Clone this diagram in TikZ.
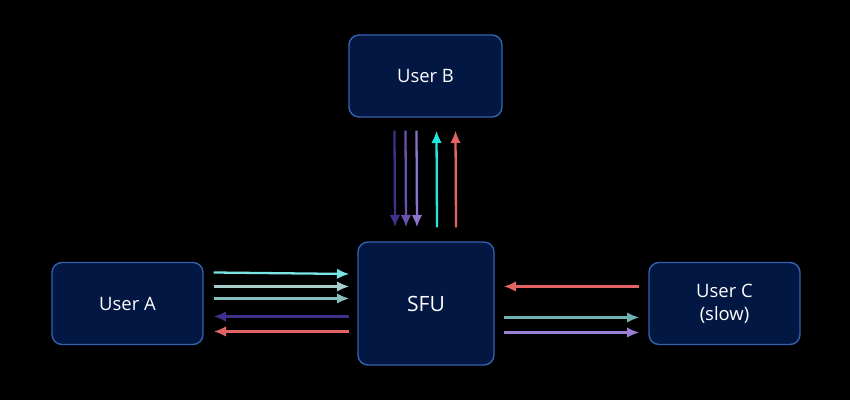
\documentclass[tikz,border=0pt]{standalone}
\usepackage{fontspec}
\setmainfont{Open Sans}
\usetikzlibrary{
	arrows.meta,
	positioning
}
\definecolor{boxfill}{HTML}{031743}
\definecolor{boxline}{HTML}{3560B0}
\definecolor{flowcyan}{HTML}{22E6E0}
\definecolor{flowcyanl}{HTML}{78E4E4}
\definecolor{flowgreyA}{HTML}{A6CCCC}
\definecolor{flowgreyB}{HTML}{86BEBE}
\definecolor{flowteal}{HTML}{6FB2B2}
\definecolor{flowred}{HTML}{E26464}
\definecolor{flowpurpA}{HTML}{40308C}
\definecolor{flowpurpB}{HTML}{6A52AC}
\definecolor{flowpurpC}{HTML}{8C74CC}
\definecolor{flowpurpD}{HTML}{9A80D4}

\tikzset{
	userbox/.style={draw=boxline,line width=0.8pt,fill=boxfill,rounded corners=0.2cm,
		minimum width=3.02cm,minimum height=1.64cm,text=white,font=\fontsize{10.5}{13}\selectfont,align=center},
	flow/.style={->,line width=1.3pt}
}

\begin{document}
\begin{tikzpicture}[>={Latex[length=7pt,width=6pt]}]
    % Background
    \fill[black] (0,0) rectangle (17,8);
    \useasboundingbox (0,0) rectangle (17,8);
    % Definitions
    \coordinate (UB) at (8.51,6.48);
    \coordinate (SF) at (8.52,1.93);
    \coordinate (UA) at (2.55,1.93);
    \coordinate (UC) at (14.49,1.93);
    % Nodes
    \node(UsrB) at (UB) [userbox,minimum width=3.06cm] {User B};
    \node(Sfu)  at (SF) [userbox,minimum width=2.72cm,minimum height=2.46cm,font=\fontsize{12}{14}\selectfont] {SFU};
    \node(UsrA) at (UA) [userbox] {User A};
    \node(UsrC) at (UC) [userbox] {User C\\(slow)};
    % Arrows User B <-> SFU
    \draw[flow,flowpurpA] ([xshift=-0.62cm,yshift=-0.26cm]UsrB.south) -- ([xshift=-0.62cm,yshift=0.28cm]Sfu.north);
    \draw[flow,flowpurpB] ([xshift=-0.40cm,yshift=-0.26cm]UsrB.south) -- ([xshift=-0.40cm,yshift=0.28cm]Sfu.north);
    \draw[flow,flowpurpC] ([xshift=-0.18cm,yshift=-0.26cm]UsrB.south) -- ([xshift=-0.18cm,yshift=0.28cm]Sfu.north);
    \draw[flow,flowcyan]  ([xshift=0.22cm,yshift=0.28cm]Sfu.north) -- ([xshift=0.22cm,yshift=-0.26cm]UsrB.south);
    \draw[flow,flowred]   ([xshift=0.60cm,yshift=0.28cm]Sfu.north) -- ([xshift=0.60cm,yshift=-0.26cm]UsrB.south);
    % Arrows User A <-> SFU
    \draw[flow,flowcyanl] ([xshift=0.2cm,yshift=0.62cm]UsrA.east) -- ([xshift=-0.16cm,yshift=0.59cm]Sfu.west);
    \draw[flow,flowgreyA] ([xshift=0.2cm,yshift=0.34cm]UsrA.east) -- ([xshift=-0.16cm,yshift=0.34cm]Sfu.west);
    \draw[flow,flowgreyB] ([xshift=0.2cm,yshift=0.10cm]UsrA.east) -- ([xshift=-0.16cm,yshift=0.10cm]Sfu.west);
    \draw[flow,flowpurpA] ([xshift=-0.16cm,yshift=-0.26cm]Sfu.west) -- ([xshift=0.2cm,yshift=-0.26cm]UsrA.east);
    \draw[flow,flowred]   ([xshift=-0.16cm,yshift=-0.56cm]Sfu.west) -- ([xshift=0.2cm,yshift=-0.56cm]UsrA.east);
    % Arrows SFU <-> User C
    \draw[flow,flowred]   ([xshift=-0.18cm,yshift=0.34cm]UsrC.west) -- ([xshift=0.18cm,yshift=0.34cm]Sfu.east);
    \draw[flow,flowteal]  ([xshift=0.18cm,yshift=-0.28cm]Sfu.east) -- ([xshift=-0.18cm,yshift=-0.28cm]UsrC.west);
    \draw[flow,flowpurpD] ([xshift=0.18cm,yshift=-0.58cm]Sfu.east) -- ([xshift=-0.18cm,yshift=-0.58cm]UsrC.west);
\end{tikzpicture}
\end{document}
